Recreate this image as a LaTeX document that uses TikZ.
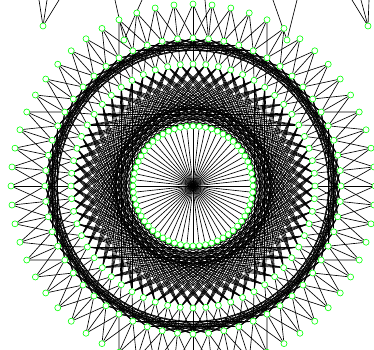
\documentclass[tikz,border=0pt]{standalone}
\usepackage{tikz}
\usetikzlibrary{backgrounds}
\usepackage{xcolor}
\definecolor{ringgreen}{HTML}{00FF00}

\begin{document}
\begin{tikzpicture}[x=1pt, y=1pt,
    vertex/.style={circle, draw=ringgreen, fill=white, line width=0.6pt,
                   minimum size=6pt, inner sep=0pt},
    hubpt/.style={circle, inner sep=0pt, minimum size=0pt},
    link/.style={black, line width=0.65pt}
  ]
    \useasboundingbox (-193,-163) rectangle (181,186);
    \node[hubpt] (hub) at (0,0) {};
    \foreach \i in {0,...,59} {
      \node[vertex] (a\i) at (\i*6:60) {};
      \node[vertex] (b\i) at (\i*6:122) {};
      \node[vertex] (c\i) at (\i*6:148) {};
      \node[vertex] (d\i) at (\i*6:182) {};
    }
    \node[vertex] (e1) at (-150,160) {};
    \node[vertex] (e2) at (175,160) {};
    \node[vertex] (e3) at (-69,146) {};
    \node[vertex] (e4) at (94,146) {};
    \coordinate (t1) at (-154,186);
    \coordinate (t2) at (-146,186);
    \coordinate (t3) at (-134,186);
    \coordinate (t4) at (159,186);
    \coordinate (t5) at (168,186);
    \coordinate (t6) at (176,186);
    \coordinate (t7) at (-78,186);
    \coordinate (t8) at (-51,186);
    \coordinate (t9) at (80,186);
    \coordinate (t10) at (104,186);
    \coordinate (t11) at (12,186);
    \begin{scope}[on background layer]
      \clip (-193,-163) rectangle (181,186);
      \foreach \i in {0,...,59} {
        \draw[link] (hub) -- (a\i);
        \foreach \k in {-1,0,1} {
          \pgfmathtruncatemacro\j{mod(\i+\k+60,60)}
          \draw[link] (c\i) -- (b\j);
          \draw[link] (d\i) -- (c\j);
        }
        \foreach \k in {6,7,8} {
          \pgfmathtruncatemacro\j{mod(\i+\k,60)}
          \draw[link] (c\i) -- (c\j);
        }
        \foreach \k in {17,...,20} {
          \pgfmathtruncatemacro\j{mod(\i+\k,60)}
          \draw[link] (b\i) -- (b\j);
        }
      }
      \draw[link] (e1) -- (t1) (e1) -- (t2) (e1) -- (t3);
      \draw[link] (e2) -- (t4) (e2) -- (t5) (e2) -- (t6);
      \draw[link] (e3) -- (t7) (e3) -- (t8);
      \draw[link] (e4) -- (t9) (e4) -- (t10);
      \draw[link] (c14) -- (t11);
    \end{scope}
  \end{tikzpicture}
\end{document}
